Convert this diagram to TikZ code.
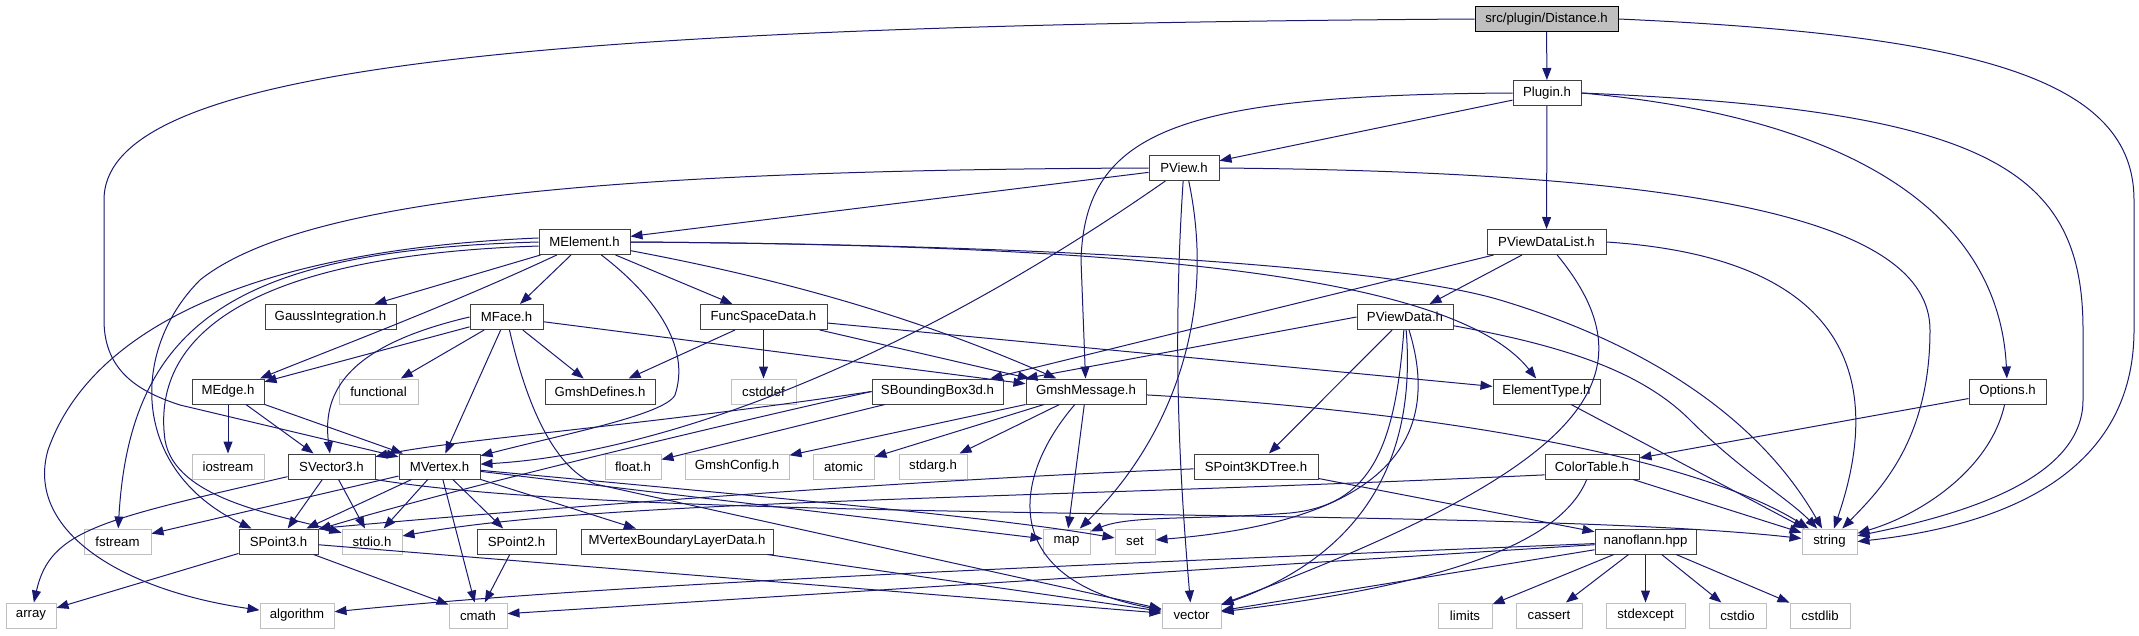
\documentclass[tikz,border=0pt]{standalone}
\usepackage{fontspec}
\setmainfont{Liberation Sans}
\usetikzlibrary{arrows.meta}
\definecolor{mblue}{HTML}{191970}
\definecolor{gdark}{HTML}{404040}
\definecolor{glight}{HTML}{BFBFBF}
\begin{document}
\begin{tikzpicture}[x=1pt,y=-1pt,
  base/.style={rectangle, minimum height=25pt, inner sep=0pt, line width=1pt, fill=white, text=black, font=\fontsize{13.2}{15}\selectfont},
  pbox/.style={base, draw=gdark},
  sbox/.style={base, draw=glight},
  rbox/.style={base, draw=black, fill=glight},
  edge/.style={draw=mblue, line width=1pt, -{Triangle[length=12pt,width=9pt]}}]
\useasboundingbox (0,0) rectangle (2139,635);
% nodes
\node[rbox, minimum width=143pt] (dist) at (1546.5,19) {src/plugin/Distance.h};
\node[pbox, minimum width=68pt] (plugin) at (1547,93) {Plugin.h};
\node[pbox, minimum width=70pt] (pview) at (1184,168) {PView.h};
\node[pbox, minimum width=91pt] (melement) at (584.5,242) {MElement.h};
\node[pbox, minimum width=119pt] (pvdl) at (1546.5,242) {PViewDataList.h};
\node[pbox, minimum width=131pt] (gauss) at (330.5,317) {GaussIntegration.h};
\node[pbox, minimum width=73pt] (mface) at (506.5,317) {MFace.h};
\node[pbox, minimum width=127pt] (fsd) at (763.5,317) {FuncSpaceData.h};
\node[pbox, minimum width=96pt] (pvd) at (1405,317) {PViewData.h};
\node[pbox, minimum width=72pt] (medge) at (228,391.5) {MEdge.h};
\node[sbox, minimum width=79pt] (functional) at (378.5,391.5) {functional};
\node[pbox, minimum width=110pt] (gmshdef) at (600,391.5) {GmshDefines.h};
\node[sbox, minimum width=65pt] (cstddef) at (763.5,391.5) {cstddef};
\node[pbox, minimum width=131pt] (sbb) at (937.5,391.5) {SBoundingBox3d.h};
\node[pbox, minimum width=120pt] (gmsg) at (1086,391.5) {GmshMessage.h};
\node[pbox, minimum width=107pt] (eltype) at (1546.5,391.5) {ElementType.h};
\node[pbox, minimum width=77pt] (options) at (2007.5,391.5) {Options.h};
\node[sbox, minimum width=72pt] (iostream) at (228,466.5) {iostream};
\node[pbox, minimum width=87pt] (svec) at (331.5,466.5) {SVector3.h};
\node[pbox, minimum width=81pt] (mvertex) at (439.5,466.5) {MVertex.h};
\node[sbox, minimum width=56pt] (float) at (633,466.5) {float.h};
\node[sbox, minimum width=104pt] (gmshcfg) at (737,466.5) {GmshConfig.h};
\node[sbox, minimum width=61pt] (atomic) at (843.5,466.5) {atomic};
\node[sbox, minimum width=68pt] (stdarg) at (933,466.5) {stdarg.h};
\node[pbox, minimum width=124pt] (kdtree) at (1256,466.5) {SPoint3KDTree.h};
\node[pbox, minimum width=94pt] (colortable) at (1592,466.5) {ColorTable.h};
\node[sbox, minimum width=67pt] (fstream) at (117.5,541.5) {fstream};
\node[pbox, minimum width=79pt] (spoint3) at (278.5,541.5) {SPoint3.h};
\node[sbox, minimum width=60pt] (stdio) at (372,541.5) {stdio.h};
\node[pbox, minimum width=79pt] (spoint2) at (516.5,541.5) {SPoint2.h};
\node[pbox, minimum width=192pt] (mvbld) at (677,541.5) {MVertexBoundaryLayerData.h};
\node[sbox, minimum width=47pt] (map) at (1066.5,541.5) {map};
\node[sbox, minimum width=40pt] (set) at (1135,541.5) {set};
\node[pbox, minimum width=101pt] (nanoflann) at (1645.5,541.5) {nanoflann.hpp};
\node[sbox, minimum width=55pt] (string) at (1829.5,541.5) {string};
\node[sbox, minimum width=50pt] (array) at (31,615.5) {array};
\node[sbox, minimum width=74pt] (algorithm) at (297,615.5) {algorithm};
\node[sbox, minimum width=58pt] (cmath) at (478,615.5) {cmath};
\node[sbox, minimum width=59pt] (vector) at (1191.5,615.5) {vector};
\node[sbox, minimum width=54pt] (limits) at (1465,615.5) {limits};
\node[sbox, minimum width=66pt] (cassert) at (1549,615.5) {cassert};
\node[sbox, minimum width=79pt] (stdexcept) at (1645.5,615.5) {stdexcept};
\node[sbox, minimum width=57pt] (cstdio) at (1737.5,615.5) {cstdio};
\node[sbox, minimum width=60pt] (cstdlib) at (1820,615.5) {cstdlib};
% Distance.h
\draw[edge] (dist) -- (plugin);
\draw[edge] (dist.west) .. controls (500,25) and (104,70) .. (104,200) -- (104,320) .. controls (104,372) and (140,392) .. (180,405) -- (mvertex);
\draw[edge] (dist.east) .. controls (1980,35) and (2134,80) .. (2134,200) -- (2134,330) .. controls (2134,470) and (2010,525) .. (string.east);
% Plugin.h
\draw[edge] (plugin) -- (pview);
\draw[edge] (plugin.west) .. controls (1180,95) and (1085,130) .. (1081,260) -- (gmsg);
\draw[edge] (plugin) -- (pvdl);
\draw[edge] (plugin.east) .. controls (1880,120) and (2000,230) .. (options);
\draw[edge] (plugin.east) .. controls (1990,110) and (2083,170) .. (2083,330) -- (2083,400) .. controls (2083,480) and (1960,515) .. (string);
% PView.h
\draw[edge] (pview) -- (melement);
\draw[edge] (pview.west) .. controls (600,170) and (300,200) .. (200,280) .. controls (130,350) and (130,470) .. (spoint3);
\draw[edge] (pview) .. controls (880,380) and (640,455) .. (mvertex);
\draw[edge] (pview) .. controls (1172,350) and (1180,480) .. (vector);
\draw[edge] (pview.-70) .. controls (1220,330) and (1160,450) .. (map);
\draw[edge] (pview.east) .. controls (1700,172) and (1930,220) .. (1930,330) .. controls (1930,440) and (1880,490) .. (string);
% MElement.h
\draw[edge] (melement) -- (gauss);
\draw[edge] (melement) -- (mface);
\draw[edge] (melement) -- (fsd);
\draw[edge] (melement) .. controls (760,275) and (900,310) .. (gmsg);
\draw[edge] (melement.east) .. controls (1100,245) and (1450,270) .. (eltype);
\draw[edge] (melement.east) .. controls (1100,245) and (1400,270) .. (1500,300) .. controls (1650,345) and (1760,420) .. (string);
\draw[edge] (melement) .. controls (450,305) and (330,350) .. (medge);
\draw[edge] (melement) .. controls (660,300) and (690,350) .. (675,395) .. controls (665,415) and (560,435) .. (mvertex);
\draw[edge] (melement.175) .. controls (250,250) and (90,330) .. (48,450) .. controls (25,530) and (120,590) .. (algorithm);
\draw[edge] (melement.west) .. controls (240,250) and (130,320) .. (fstream);
\draw[edge] (melement.185) .. controls (260,255) and (150,330) .. (165,440) .. controls (175,500) and (280,515) .. (stdio);
% MFace.h
\draw[edge] (mface) -- (medge);
\draw[edge] (mface) -- (functional);
\draw[edge] (mface) -- (mvertex);
\draw[edge] (mface) -- (gmshdef);
\draw[edge] (mface.west) .. controls (350,345) and (322,390) .. (svec);
\draw[edge] (mface) .. controls (530,420) and (560,470) .. (595,484) -- (vector);
\draw[edge] (mface) -- (gmsg);
% FuncSpaceData.h
\draw[edge] (fsd) -- (cstddef);
\draw[edge] (fsd) -- (gmshdef);
\draw[edge] (fsd) -- (gmsg);
\draw[edge] (fsd) -- (eltype);
% MEdge.h
\draw[edge] (medge) -- (iostream);
\draw[edge] (medge) -- (svec);
\draw[edge] (medge) -- (mvertex);
% SVector3.h
\draw[edge] (svec) -- (spoint3);
\draw[edge] (svec) -- (stdio);
\draw[edge] (svec) .. controls (100,520) and (50,530) .. (array);
\draw[edge] (svec.south east) .. controls (650,525) and (1500,505) .. (string);
% MVertex.h
\draw[edge] (mvertex) -- (spoint3);
\draw[edge] (mvertex) -- (stdio);
\draw[edge] (mvertex) -- (cmath);
\draw[edge] (mvertex) -- (spoint2);
\draw[edge] (mvertex) -- (mvbld);
\draw[edge] (mvertex) -- (fstream);
\draw[edge] (mvertex) -- (map);
\draw[edge] (mvertex) .. controls (800,500) and (1000,518) .. (set);
% SPoint3.h, SPoint2.h, MVertexBoundaryLayerData.h
\draw[edge] (spoint3) -- (array);
\draw[edge] (spoint3) -- (cmath);
\draw[edge] (spoint3) -- (vector);
\draw[edge] (spoint2) -- (cmath);
\draw[edge] (mvbld) -- (vector);
% SBoundingBox3d.h
\draw[edge] (sbb.west) .. controls (700,430) and (450,490) .. (spoint3);
\draw[edge] (sbb.west) .. controls (650,425) and (450,440) .. (svec);
\draw[edge] (sbb) -- (float);
% GmshMessage.h
\draw[edge] (gmsg) -- (gmshcfg);
\draw[edge] (gmsg) -- (atomic);
\draw[edge] (gmsg) -- (stdarg);
\draw[edge] (gmsg) -- (map);
\draw[edge] (gmsg) .. controls (1010,480) and (1000,580) .. (vector);
\draw[edge] (gmsg) .. controls (1450,412) and (1700,460) .. (string);
% PViewDataList.h
\draw[edge] (pvdl) -- (pvd);
\draw[edge] (pvdl) -- (sbb);
\draw[edge] (pvdl) .. controls (1660,380) and (1580,470) .. (vector);
\draw[edge] (pvdl.east) .. controls (1850,258) and (1885,380) .. (string);
% PViewData.h
\draw[edge] (pvd) -- (kdtree);
\draw[edge] (pvd.west) -- (gmsg.north west);
\draw[edge] (pvd.-95) .. controls (1395,450) and (1370,505) .. (1290,513) .. controls (1200,520) and (1130,515) .. (map);
\draw[edge] (pvd) .. controls (1440,430) and (1400,520) .. (set);
\draw[edge] (pvd.-85) .. controls (1420,500) and (1320,570) .. (vector);
\draw[edge] (pvd) .. controls (1560,345) and (1640,370) .. (1690,420) .. controls (1740,470) and (1790,500) .. (string);
% ElementType.h, Options.h, ColorTable.h
\draw[edge] (eltype) -- (string);
\draw[edge] (options) -- (colortable);
\draw[edge] (options) .. controls (1990,470) and (1920,515) .. (string);
\draw[edge] (colortable) -- (string);
\draw[edge] (colortable.190) .. controls (1000,500) and (600,500) .. (stdio);
\draw[edge] (colortable) .. controls (1560,545) and (1440,585) .. (vector);
% SPoint3KDTree.h
\draw[edge] (kdtree) .. controls (900,480) and (500,512) .. (spoint3.north east);
\draw[edge] (kdtree) -- (nanoflann);
% nanoflann.hpp
\draw[edge] (nanoflann) -- (limits);
\draw[edge] (nanoflann) -- (cassert);
\draw[edge] (nanoflann) -- (stdexcept);
\draw[edge] (nanoflann) -- (cstdio);
\draw[edge] (nanoflann) -- (cstdlib);
\draw[edge] (nanoflann) -- (vector);
\draw[edge] (nanoflann) -- (cmath);
\draw[edge] (nanoflann) .. controls (1000,568) and (600,585) .. (algorithm);
\end{tikzpicture}
\end{document}
